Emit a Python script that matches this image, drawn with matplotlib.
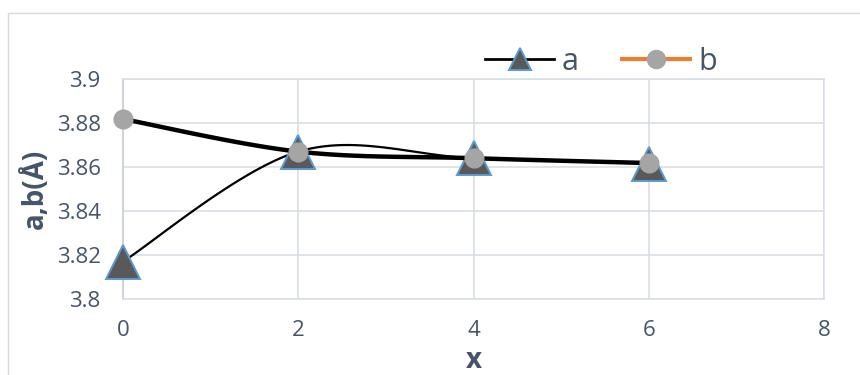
import numpy as np
import matplotlib
matplotlib.use('Agg')
from matplotlib import pyplot as plt
from matplotlib.lines import Line2D
from matplotlib.patches import Rectangle
from matplotlib.ticker import FuncFormatter

#  values
x_vals = [0, 2, 4, 6]
a_vals = [3.817, 3.867, 3.864, 3.8615]
b_vals = [3.8818, 3.867, 3.864, 3.8618]
y_ticks = [3.8, 3.82, 3.84, 3.86, 3.88, 3.9]
x_ticks = [0, 2, 4, 6, 8]

text_col = '#44546A'
grid_col = '#D9DEE6'

plt.rcParams['font.family'] = ['Open Sans', 'DejaVu Sans']


def smooth(xs, ys, n=40):
    #  Excel style smoothed line: cubic bezier with Catmull-Rom control points
    px = np.concatenate([[xs[0]], xs, [xs[-1]]]).astype(float)
    py = np.concatenate([[ys[0]], ys, [ys[-1]]]).astype(float)
    t = np.linspace(0, 1, n)
    out_x, out_y = [], []
    for i in range(1, len(px) - 2):
        p0 = np.array([px[i], py[i]])
        p3 = np.array([px[i + 1], py[i + 1]])
        c1 = p0 + (np.array([px[i + 1], py[i + 1]]) - np.array([px[i - 1], py[i - 1]])) / 6.
        c2 = p3 - (np.array([px[i + 2], py[i + 2]]) - np.array([px[i], py[i]])) / 6.
        seg = ((1 - t) ** 3)[:, None] * p0 + (3 * (1 - t) ** 2 * t)[:, None] * c1 \
            + (3 * (1 - t) * t ** 2)[:, None] * c2 + (t ** 3)[:, None] * p3
        out_x.extend(seg[:, 0])
        out_y.extend(seg[:, 1])
    return np.array(out_x), np.array(out_y)


fig = plt.figure(figsize=(8.6, 3.75), dpi=100)
ax = fig.add_axes([123 / 860, 1 - 299 / 375, 701 / 860, 220 / 375])

#  outer chart border
fig.patches.append(Rectangle((7.5 / 860, -0.1), 1.0, 1.1 - 12.5 / 375,
                             transform=fig.transFigure, fill=False,
                             edgecolor='#D9D9D9', linewidth=1.0))

sx, sy = smooth(x_vals, a_vals)
ax.plot(sx, sy, color='black', linewidth=1.6, zorder=3, clip_on=False)
ax.plot(x_vals, a_vals, linestyle='none', marker='^', markersize=25,
        markerfacecolor='#595959', markeredgecolor='#5B9BD5',
        markeredgewidth=1.4, zorder=4, clip_on=False)

sx, sy = smooth(x_vals, b_vals)
ax.plot(sx, sy, color='black', linewidth=3.2, zorder=5, clip_on=False)
ax.plot(x_vals, b_vals, linestyle='none', marker='o', markersize=13.5,
        markerfacecolor='#A5A5A5', markeredgecolor='#A5A5A5', zorder=6,
        clip_on=False)

ax.set_xlim(0, 8)
ax.set_ylim(3.8, 3.9)
ax.set_xticks(x_ticks)
ax.set_yticks(y_ticks)
ax.yaxis.set_major_formatter(FuncFormatter(lambda v, p: '%g' % round(v, 3)))
ax.tick_params(length=0, labelsize=16, labelcolor=text_col)
ax.tick_params(axis='y', pad=16)
ax.tick_params(axis='x', pad=15)
ax.grid(True, color=grid_col, linewidth=1.2)
ax.set_axisbelow(True)
for sp in ax.spines.values():
    sp.set_color(grid_col)
    sp.set_linewidth(1.2)
ax.spines['left'].set_color('#C8CFDA')

ax.set_ylabel('a,b(Å)', fontsize=20, fontweight='bold', color=text_col, labelpad=5)
ax.set_xlabel('x', fontsize=20, fontweight='bold', color=text_col, labelpad=4)

handles = [
    Line2D([], [], color='black', linewidth=2, marker='^', markersize=16,
           markerfacecolor='#595959', markeredgecolor='#5B9BD5', markeredgewidth=1.4),
    Line2D([], [], color='#ED7D31', linewidth=3, marker='o', markersize=13,
           markerfacecolor='#A5A5A5', markeredgecolor='#A5A5A5'),
]
leg = fig.legend(handles, ['a', 'b'], loc='center', bbox_to_anchor=(0.699, 0.836),
                 ncol=2, frameon=False, fontsize=22, handlelength=2.25,
                 handletextpad=0.25, columnspacing=1.4)
for t in leg.get_texts():
    t.set_color(text_col)

fig.savefig('out.png', dpi=100)
